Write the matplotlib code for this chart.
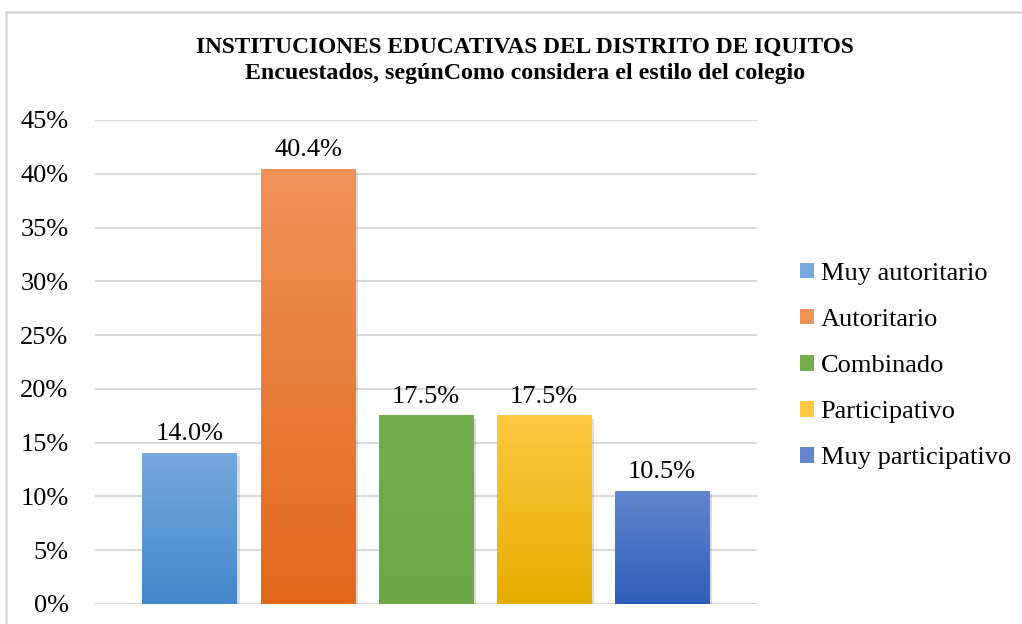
import numpy as np
import matplotlib
matplotlib.use("Agg")
import matplotlib.pyplot as plt
from matplotlib.patches import Rectangle
from matplotlib.ticker import FuncFormatter
import matplotlib.patheffects as pe

categorias = ["Muy autoritario", "Autoritario", "Combinado", "Participativo", "Muy participativo"]
porcentajes = [14.0, 40.4, 17.5, 17.5, 10.5]
# colores (arriba, abajo) del degradado de cada barra
colores = [("#76A9DD", "#4287CB"),
           ("#F1915A", "#E2691A"),
           ("#72AE49", "#6CA844"),
           ("#FFC842", "#E5AD00"),
           ("#6286CE", "#2E5EBA")]
yticks = [0, 5, 10, 15, 20, 25, 30, 35, 40, 45]

plt.rcParams['font.family'] = ['Liberation Serif', 'DejaVu Serif']

fig = plt.figure(figsize=(10.22, 6.24), dpi=100)
ax = fig.add_axes([95 / 1022, 1 - 604 / 624, (757 - 95) / 1022, (604 - 120) / 624])

x = np.arange(len(categorias))
ancho = 0.805
barras = ax.bar(x, porcentajes, width=ancho, color="none", zorder=3,
                path_effects=[pe.SimplePatchShadow(offset=(2, -2), shadow_rgbFace="#999999", alpha=0.35)])

for b, (c_top, c_bot), cat in zip(barras, colores, categorias):
    x0, w, h = b.get_x(), b.get_width(), b.get_height()
    cmap = matplotlib.colors.LinearSegmentedColormap.from_list("g", [c_bot, c_top])
    grad = np.linspace(0, 1, 256).reshape(-1, 1)
    ax.imshow(grad, extent=(x0, x0 + w, 0, h), origin="lower", cmap=cmap,
              aspect="auto", zorder=4)
    ax.text(x0 + w / 2, h + 0.75, f"{h:.1f}%", ha="center", va="bottom", fontsize=19, zorder=5)
    ax.add_patch(Rectangle((0, 0), 0, 0, facecolor=c_top, label=cat))

ax.set_xlim(-0.805, 4.805)
ax.set_ylim(0, 45)
ax.set_yticks(yticks)
ax.yaxis.set_major_formatter(FuncFormatter(lambda v, p: f"{v:.0f}%"))
ax.tick_params(axis="y", length=0, pad=19, labelsize=19)
ax.set_xticks([])
for s in ax.spines.values():
    s.set_visible(False)
ax.grid(axis="y", color="#D9D9D9", linewidth=1.5, zorder=0)
ax.set_axisbelow(True)

leg = fig.legend(loc="upper left", bbox_to_anchor=(789 / 1022, 1 - 252 / 624),
                 frameon=False, fontsize=19, handlelength=0.55, handleheight=0.55,
                 handletextpad=0.25, labelspacing=0.9, borderaxespad=0)

fig.text(0.5137, 1 - 47 / 624, "INSTITUCIONES EDUCATIVAS DEL DISTRITO DE IQUITOS",
         ha="center", va="center", fontsize=16.8, fontweight="bold")
fig.text(0.5137, 1 - 74 / 624, "Encuestados, segúnComo considera el estilo del colegio",
         ha="center", va="center", fontsize=17.2, fontweight="bold")

# marco del gráfico
fig.add_artist(Rectangle((6 / 1022, -0.2), 1.2, 1.2 - 12 / 624, transform=fig.transFigure,
                         fill=False, edgecolor="#D9D9D9", linewidth=1.8))

fig.savefig("out.png", dpi=100)
